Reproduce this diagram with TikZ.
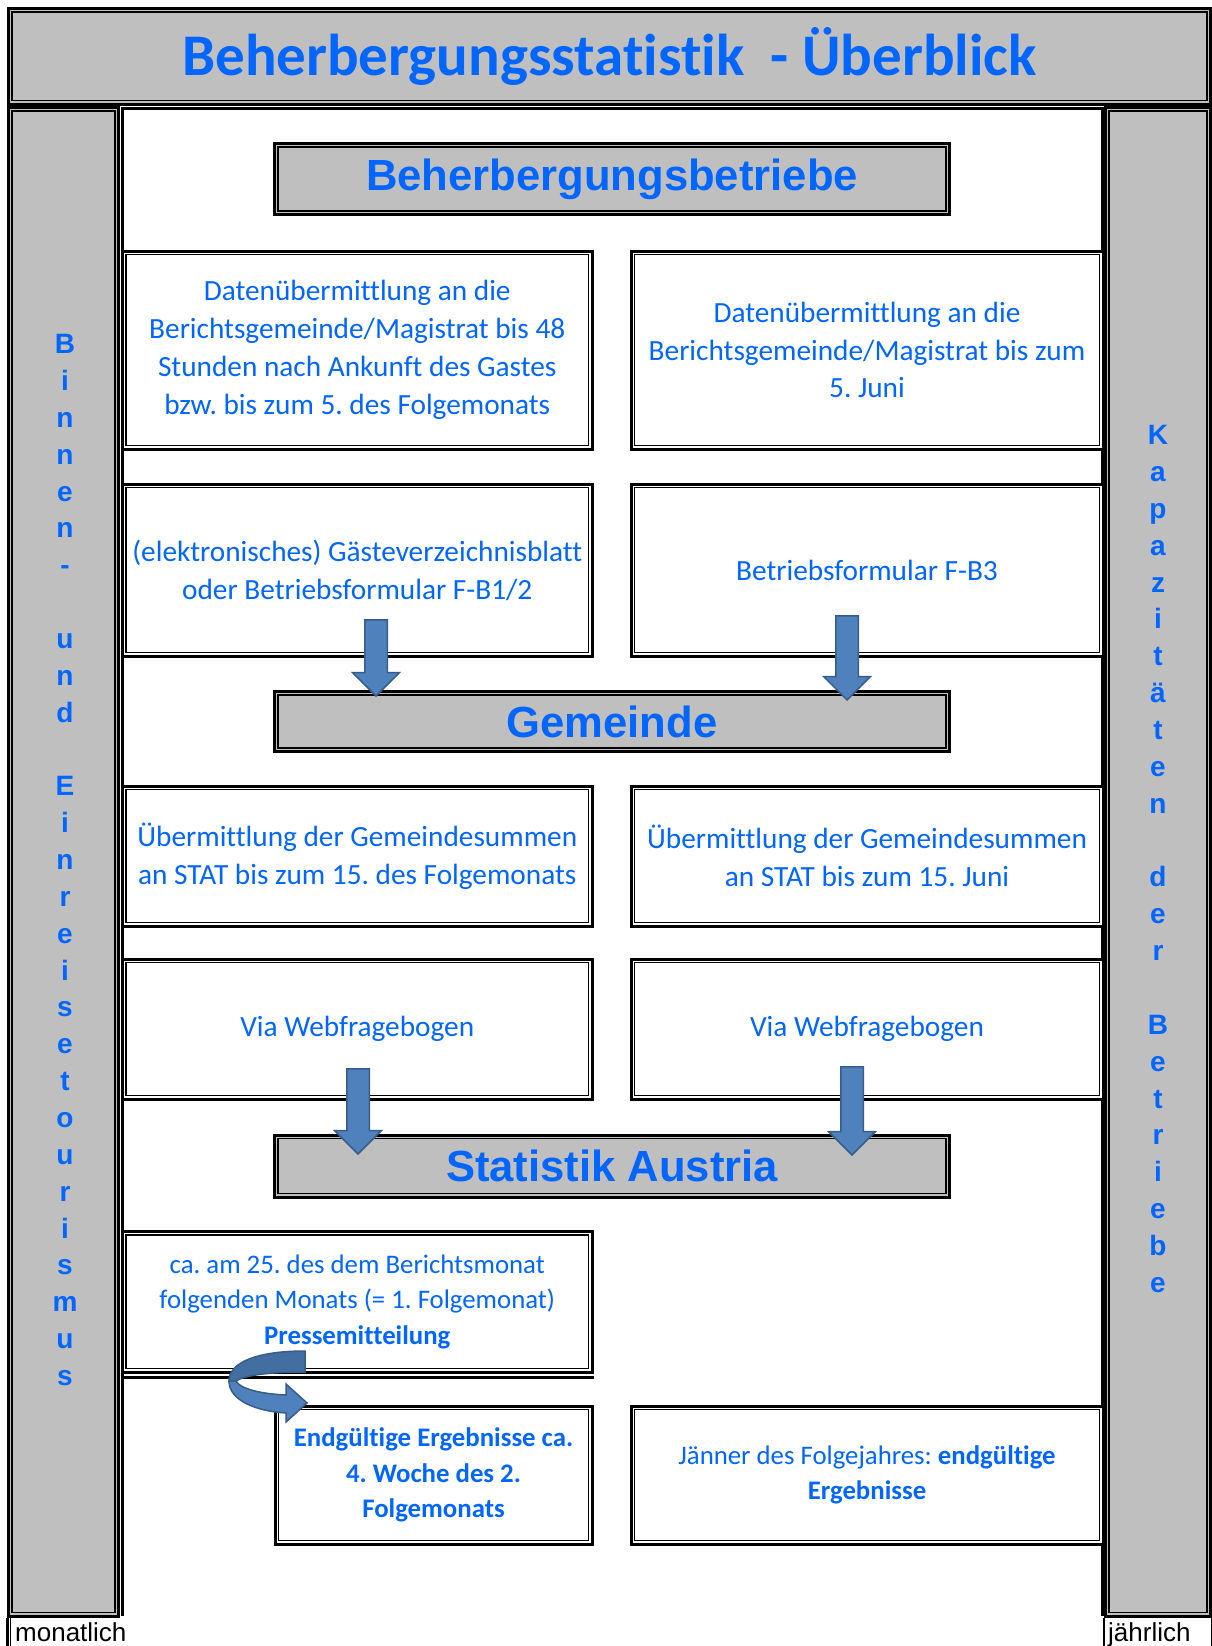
\documentclass[tikz,border=0pt]{standalone}
\usepackage{fontspec}
\setmainfont{Carlito}[Ligatures=NoCommon]
\newfontfamily\arialfont{Liberation Sans}
\usetikzlibrary{shapes.arrows}
\definecolor{statblue}{HTML}{0066FF}
\definecolor{cellgray}{HTML}{BFBFBF}
\definecolor{arrowfill}{HTML}{4F81BD}
\definecolor{arrowline}{HTML}{385D8A}
\frenchspacing

\tikzset{
  dblframe/.style={draw, line width=3pt,
    path picture={\draw[line width=1.6pt]
      ([xshift=3.6pt,yshift=-3.6pt]path picture bounding box.north west) rectangle
      ([xshift=-3.6pt,yshift=3.6pt]path picture bounding box.south east);}},
  graycell/.style={dblframe, fill=cellgray, inner sep=0pt},
  cell/.style={dblframe, fill=white, text=statblue, align=center, inner sep=0pt,
    font=\fontsize{29.3pt}{37.8pt}\selectfont},
  lcell/.style={cell, minimum width=469.5pt},
  rcell/.style={cell, minimum width=472pt},
  tight/.style={font=\fontsize{26.8pt}{35.5pt}\selectfont},
  titlebox/.style={graycell, minimum width=675pt, text=statblue,
    font=\arialfont\bfseries\fontsize{43.6pt}{50pt}\selectfont},
  sideletters/.style={text=statblue, align=center, inner sep=0pt,
    font=\arialfont\bfseries\fontsize{28pt}{36.85pt}\selectfont},
  downarrow/.style={single arrow, draw=arrowline, fill=arrowfill, line width=1.5pt,
    inner xsep=0pt, inner ysep=10.5pt, single arrow head extend=12pt,
    single arrow tip angle=90, rotate=-90, anchor=tip},
  smalllabel/.style={anchor=base west, inner sep=0pt,
    font=\arialfont\fontsize{26pt}{30pt}\selectfont}
}

\begin{document}
\begin{tikzpicture}[x=1pt,y=-1pt]
\useasboundingbox (0,0) rectangle (1212,1646);

% Kopfzeile und Seitenleisten
\node[graycell, minimum width=1202pt, minimum height=95.5pt, text=statblue,
  font=\bfseries\fontsize{59pt}{70pt}\selectfont] (kopf) at (609.5,56.25)
  {Beherbergungsstatistik\ \ - Überblick};
\node[graycell, minimum width=110pt, minimum height=1508.5pt] (links) at (63.5,861.75) {};
\node[graycell, minimum width=105pt, minimum height=1508.5pt] (rechts) at (1158,861.75) {};
\node[fill=white, minimum width=980.5pt, minimum height=1507.5pt] (mitte) at (612.75,862.25) {};
\draw[line width=3.5pt] (mitte.south west) -- (mitte.north west) -- (mitte.north east) -- (mitte.south east);

\node[sideletters] (binnen) at (65,860) {B\\i\\n\\n\\e\\n\\-\\\mbox{}\\u\\n\\d\\\mbox{}\\E\\i\\n\\r\\e\\i\\s\\e\\t\\o\\u\\r\\i\\s\\m\\u\\s};
\node[sideletters] (kapaz) at (1158,859) {K\\a\\p\\a\\z\\i\\t\\ä\\t\\e\\n\\\mbox{}\\d\\e\\r\\\mbox{}\\B\\e\\t\\r\\i\\e\\b\\e};

% Ebenen
\node[titlebox, minimum height=71pt] (betriebe) at (612,179) {Beherbergungsbetriebe};

\node[lcell, minimum height=198pt] (l1) at (357.25,350) {Datenübermittlung an die\\Berichtsgemeinde/Magistrat bis 48\\Stunden nach Ankunft des Gastes\\bzw. bis zum 5. des Folgemonats};
\node[rcell, minimum height=198pt] (r1) at (867,350) {Datenübermittlung an die\\Berichtsgemeinde/Magistrat bis zum\\5. Juni};

\node[lcell, minimum height=172pt] (l2) at (357.25,570) {(elektronisches) Gästeverzeichnisblatt\\oder Betriebsformular F-B1/2};
\node[rcell, minimum height=172pt] (r2) at (867,570) {Betriebsformular F-B3};

\node[titlebox, minimum height=60pt] (gemeinde) at (612,721.5) {Gemeinde};

\node[lcell, minimum height=140pt] (l3) at (357.25,856) {Übermittlung der Gemeindesummen\\an STAT bis zum 15. des Folgemonats};
\node[rcell, minimum height=140pt] (r3) at (867,856) {Übermittlung der Gemeindesummen\\an STAT bis zum 15. Juni};

\node[lcell, minimum height=140pt] (l4) at (357.25,1029) {Via Webfragebogen};
\node[rcell, minimum height=140pt] (r4) at (867,1029) {Via Webfragebogen};

\node[titlebox, minimum height=62pt] (statistik) at (612,1166) {Statistik Austria};

\node[lcell, tight, minimum height=140.5pt] (l5) at (357.25,1301.75) {ca. am 25. des dem Berichtsmonat\\folgenden Monats (= 1. Folgemonat)\\\textbf{Pressemitteilung}};
\draw[line width=3pt] ([yshift=-4pt]l5.south west) -- ([yshift=-4pt]l5.south east);

\node[cell, tight, minimum width=317pt, minimum height=138pt] (l6) at (433.5,1475) {\textbf{Endgültige Ergebnisse ca.}\\\textbf{4. Woche des 2.}\\\textbf{Folgemonats}};
\node[rcell, tight, minimum height=138pt] (r6) at (867,1475) {Jänner des Folgejahres: \textbf{endgültige}\\\textbf{Ergebnisse}};

% Pfeile
\node[downarrow, minimum height=76pt] (p1) at (376,697) {};
\node[downarrow, minimum height=84pt] (p2) at (847,701) {};
\node[downarrow, minimum height=85pt] (p3) at (358,1155) {};
\node[downarrow, minimum height=88pt] (p4) at (852,1156) {};

% gebogener Pfeil
\draw[draw=arrowline, fill=arrowfill!85!black, line width=1.5pt]
  (305,1351) .. controls (258,1351) and (229,1362) .. (229,1381) -- (236,1381)
  .. controls (245,1375) and (270,1372) .. (305,1372) -- cycle;
\draw[draw=arrowline, fill=arrowfill, line width=1.5pt]
  (229,1381) .. controls (229,1400) and (255,1411) .. (286,1413) -- (286,1422)
  -- (307,1403) -- (286,1384) -- (286,1395)
  .. controls (262,1394) and (240,1389) .. (236,1381) -- cycle;

% Fusszeile
\draw[line width=3pt] (links.south west) -- ++(0,40);
\draw[line width=1.6pt] ([xshift=3.6pt]links.south west) -- ++(0,40);
\node[smalllabel] (monatlich) at (15,1641) {monatlich};
\draw[line width=1.5pt] (rechts.south west) -- ++(0,40);
\draw[line width=1.5pt] (rechts.south east) -- ++(0,40);
\node[smalllabel] (jaehrlich) at (1108,1641) {jährlich};
\end{tikzpicture}
\end{document}
